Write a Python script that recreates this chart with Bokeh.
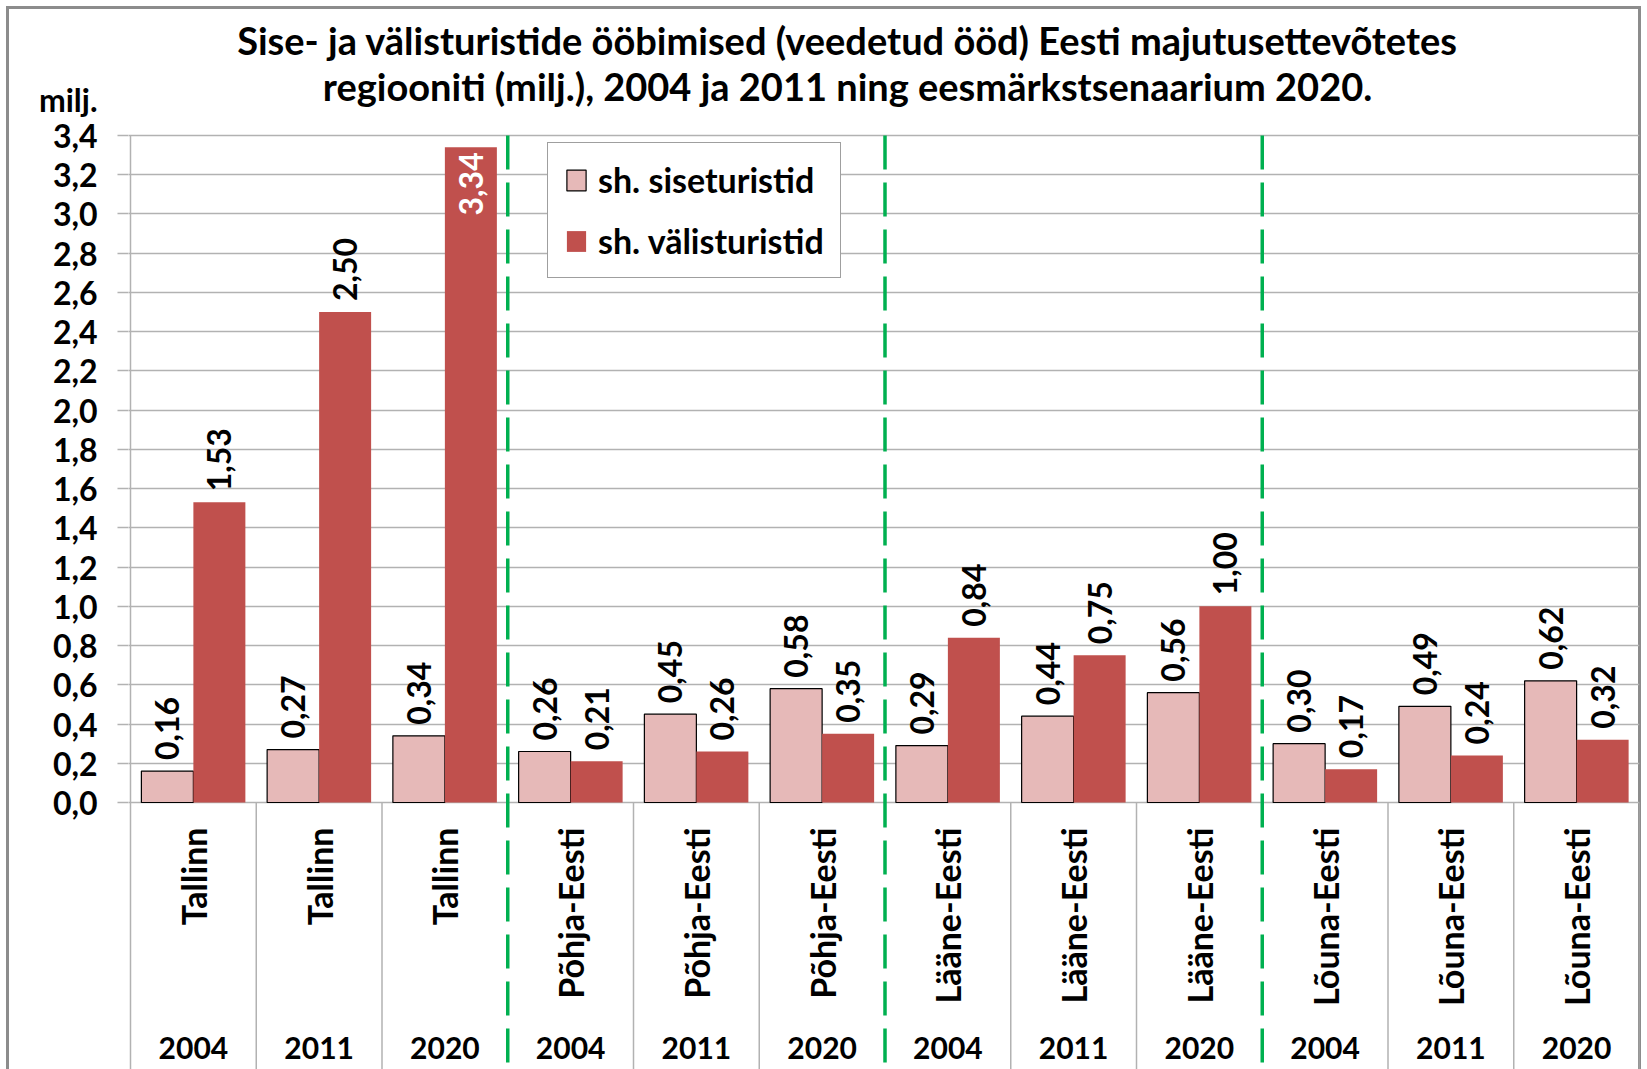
import math
from bokeh.plotting import figure
from bokeh.models import (Range1d, FixedTicker, CustomJSTickFormatter,
                          Legend, LegendItem, ColumnDataSource)
from bokeh.core.properties import value
from bokeh.embed import file_html
from bokeh.resources import INLINE

# ---------------- data ----------------
regions = ["Tallinn", "Tallinn", "Tallinn",
           "Põhja-Eesti", "Põhja-Eesti", "Põhja-Eesti",
           "Lääne-Eesti", "Lääne-Eesti", "Lääne-Eesti",
           "Lõuna-Eesti", "Lõuna-Eesti", "Lõuna-Eesti"]
years = ["2004", "2011", "2020",
         "2004", "2011", "2020",
         "2004", "2011", "2020",
         "2004", "2011", "2020"]
siseturistid = [0.16, 0.27, 0.34, 0.26, 0.45, 0.58, 0.29, 0.44, 0.56, 0.30, 0.49, 0.62]
valisturistid = [1.53, 2.50, 3.34, 0.21, 0.26, 0.35, 0.84, 0.75, 1.00, 0.17, 0.24, 0.32]
y_ticks = [0.0, 0.2, 0.4, 0.6, 0.8, 1.0, 1.2, 1.4, 1.6, 1.8, 2.0, 2.2, 2.4, 2.6, 2.8, 3.0, 3.2, 3.4]
region_breaks = [3, 6, 9]
title_1 = "Sise- ja välisturistide ööbimised (veedetud ööd) Eesti majutusettevõtetes"
title_2 = "regiooniti (milj.), 2004 ja 2011 ning eesmärkstsenaarium 2020."
unit_label = "milj."
legend_labels = ["sh. siseturistid", "sh. välisturistid"]

# ---------------- layout constants (page pixels) ----------------
W, H = 1647, 1069
AXIS_PX, FRAME_T, FRAME_R = 130, 6, 1639
FRAME_L = AXIS_PX - 2
Y_MAX_TICK = 3.4
Y0_PX, YMAX_PX = 802, 135
PX_PER_UNIT = (Y0_PX - YMAX_PX) / Y_MAX_TICK
n = len(regions)
PX_PER_X = (FRAME_R - AXIS_PX) / n


def ydata(px):
    return (Y0_PX - px) / PX_PER_UNIT


def xdata(px):
    return (px - AXIS_PX) / PX_PER_X


Y_TOP = ydata(FRAME_T)
Y_BOTTOM = ydata(H)
UNIT_TICK = ydata(99)

FONT = value("Lato")
SISE_COLOR = "#E6B9B8"
VALI_COLOR = "#C0504D"
GRID_COLOR = "#B2B2B2"
GREEN = "#00B050"
BORDER = "#8C8C8C"

bar_w = 0.4135
centers = [i + 0.5 for i in range(n)]
x_sise = [c - bar_w / 2 for c in centers]
x_vali = [c + bar_w / 2 for c in centers]


def fmt(v):
    return f"{v:.2f}".replace(".", ",")


p = figure(width=W, height=H, output_backend="svg", toolbar_location=None,
           x_range=Range1d(xdata(FRAME_L), n), y_range=Range1d(Y_BOTTOM, Y_TOP),
           x_axis_location=None,
           min_border_left=FRAME_L, min_border_right=W - FRAME_R,
           min_border_top=FRAME_T, min_border_bottom=0,
           background_fill_color=None, border_fill_color=None)
p.outline_line_color = None
# chart-area border on left, top and right (the bottom edge is outside the picture)
p.styles = {"box-shadow": ", ".join([
    "inset 6px 0 0 0 white", "inset 0 6px 0 0 white", "inset -6px 0 0 0 white",
    f"inset 9px 0 0 0 {BORDER}", f"inset 0 9px 0 0 {BORDER}", f"inset -9px 0 0 0 {BORDER}"]),
    "background-color": "white"}

# y axis (unit label "milj." sits above the top tick, as in the original)
ax = p.yaxis[0]
ax.ticker = FixedTicker(ticks=y_ticks + [UNIT_TICK], minor_ticks=y_ticks)
ax.formatter = CustomJSTickFormatter(
    args=dict(unit=unit_label, top=Y_MAX_TICK),
    code="if (tick > top + 0.05) { return unit; } return tick.toFixed(1).replace('.', ',');")
ax.axis_line_color = None
ax.major_tick_line_color = None
ax.major_tick_out = 11
ax.major_tick_in = 0
ax.minor_tick_line_color = GRID_COLOR
ax.minor_tick_line_width = 1.5
ax.minor_tick_out = 11
ax.minor_tick_in = 0
ax.major_label_text_font = "Lato"
ax.major_label_text_font_style = "bold"
ax.major_label_text_font_size = "32px"
ax.major_label_text_color = "black"
ax.major_label_standoff = 20

p.xgrid.visible = False
p.ygrid.ticker = FixedTicker(ticks=y_ticks, minor_ticks=[])
p.ygrid.grid_line_color = GRID_COLOR
p.ygrid.grid_line_width = 1.5

# value axis line (runs down through the category area as the first separator)
p.segment(x0=[0], y0=[Y_BOTTOM], x1=[0], y1=[Y_MAX_TICK],
          line_color=GRID_COLOR, line_width=1.5)

# category separators below the axis
sep_x = [k for k in range(1, n + 1) if k not in region_breaks]
p.segment(x0=sep_x, y0=[0] * len(sep_x), x1=sep_x, y1=[Y_BOTTOM] * len(sep_x),
          line_color=GRID_COLOR, line_width=1.5)

# bars
src = ColumnDataSource(dict(xs=x_sise, xv=x_vali, sise=siseturistid, vali=valisturistid))
r_sise = p.vbar(x="xs", top="sise", width=bar_w, source=src,
                fill_color=SISE_COLOR, line_color="black", line_width=1.2)
r_vali = p.vbar(x="xv", top="vali", width=bar_w, source=src,
                fill_color=VALI_COLOR, line_color=None)

# green dashed region dividers
p.segment(x0=region_breaks, y0=[Y_MAX_TICK] * 3, x1=region_breaks, y1=[Y_BOTTOM] * 3,
          line_color=GREEN, line_width=3.5, line_dash="34 13")

# data labels
LBL_SIZE = "32px"
p.text(x=x_sise, y=siseturistid, text=[fmt(v) for v in siseturistid],
       angle=math.pi / 2, text_align="left", text_baseline="middle",
       y_offset=-11, text_font=FONT, text_font_style="bold",
       text_font_size=LBL_SIZE, text_color="black")
out_x = [x for x, v in zip(x_vali, valisturistid) if v < 3.0]
out_v = [v for v in valisturistid if v < 3.0]
in_x = [x for x, v in zip(x_vali, valisturistid) if v >= 3.0]
in_v = [v for v in valisturistid if v >= 3.0]
p.text(x=out_x, y=out_v, text=[fmt(v) for v in out_v],
       angle=math.pi / 2, text_align="left", text_baseline="middle",
       y_offset=-11, text_font=FONT, text_font_style="bold",
       text_font_size=LBL_SIZE, text_color="black")
p.text(x=in_x, y=in_v, text=[fmt(v) for v in in_v],
       angle=math.pi / 2, text_align="right", text_baseline="middle",
       y_offset=5, text_font=FONT, text_font_style="bold",
       text_font_size=LBL_SIZE, text_color="white")

# category labels
p.text(x=centers, y=[ydata(827)] * n, text=regions, angle=math.pi / 2,
       text_align="right", text_baseline="middle", text_font=FONT,
       text_font_style="bold", text_font_size="34px", text_color="black")
p.text(x=centers, y=[ydata(1047)] * n, text=years, text_align="center",
       text_baseline="middle", text_font=FONT, text_font_style="bold",
       text_font_size="30px", text_color="black")

# two-line title
p.text(x=[xdata(847)] * 2, y=[ydata(39), ydata(85)], text=[title_1, title_2],
       text_align="center", text_baseline="middle", text_font=FONT,
       text_font_style="bold", text_font_size="38px", text_color="black")

# legend
legend = Legend(items=[LegendItem(label=legend_labels[0], renderers=[r_sise]),
                       LegendItem(label=legend_labels[1], renderers=[r_vali])],
                location=(547 - FRAME_L, H - 278),
                orientation="vertical")
legend.label_text_font = "Lato"
legend.label_text_font_style = "bold"
legend.label_text_font_size = "34px"
legend.label_text_color = "black"
legend.glyph_width = 24
legend.glyph_height = 26
legend.label_height = 36
legend.label_standoff = 10
legend.spacing = 20
legend.padding = 16
legend.margin = 0
legend.border_line_color = "#404040"
legend.border_line_width = 1.2
legend.background_fill_color = "white"
legend.background_fill_alpha = 1
p.add_layout(legend, "center")

open("out.html", "w").write(file_html(p, INLINE))
